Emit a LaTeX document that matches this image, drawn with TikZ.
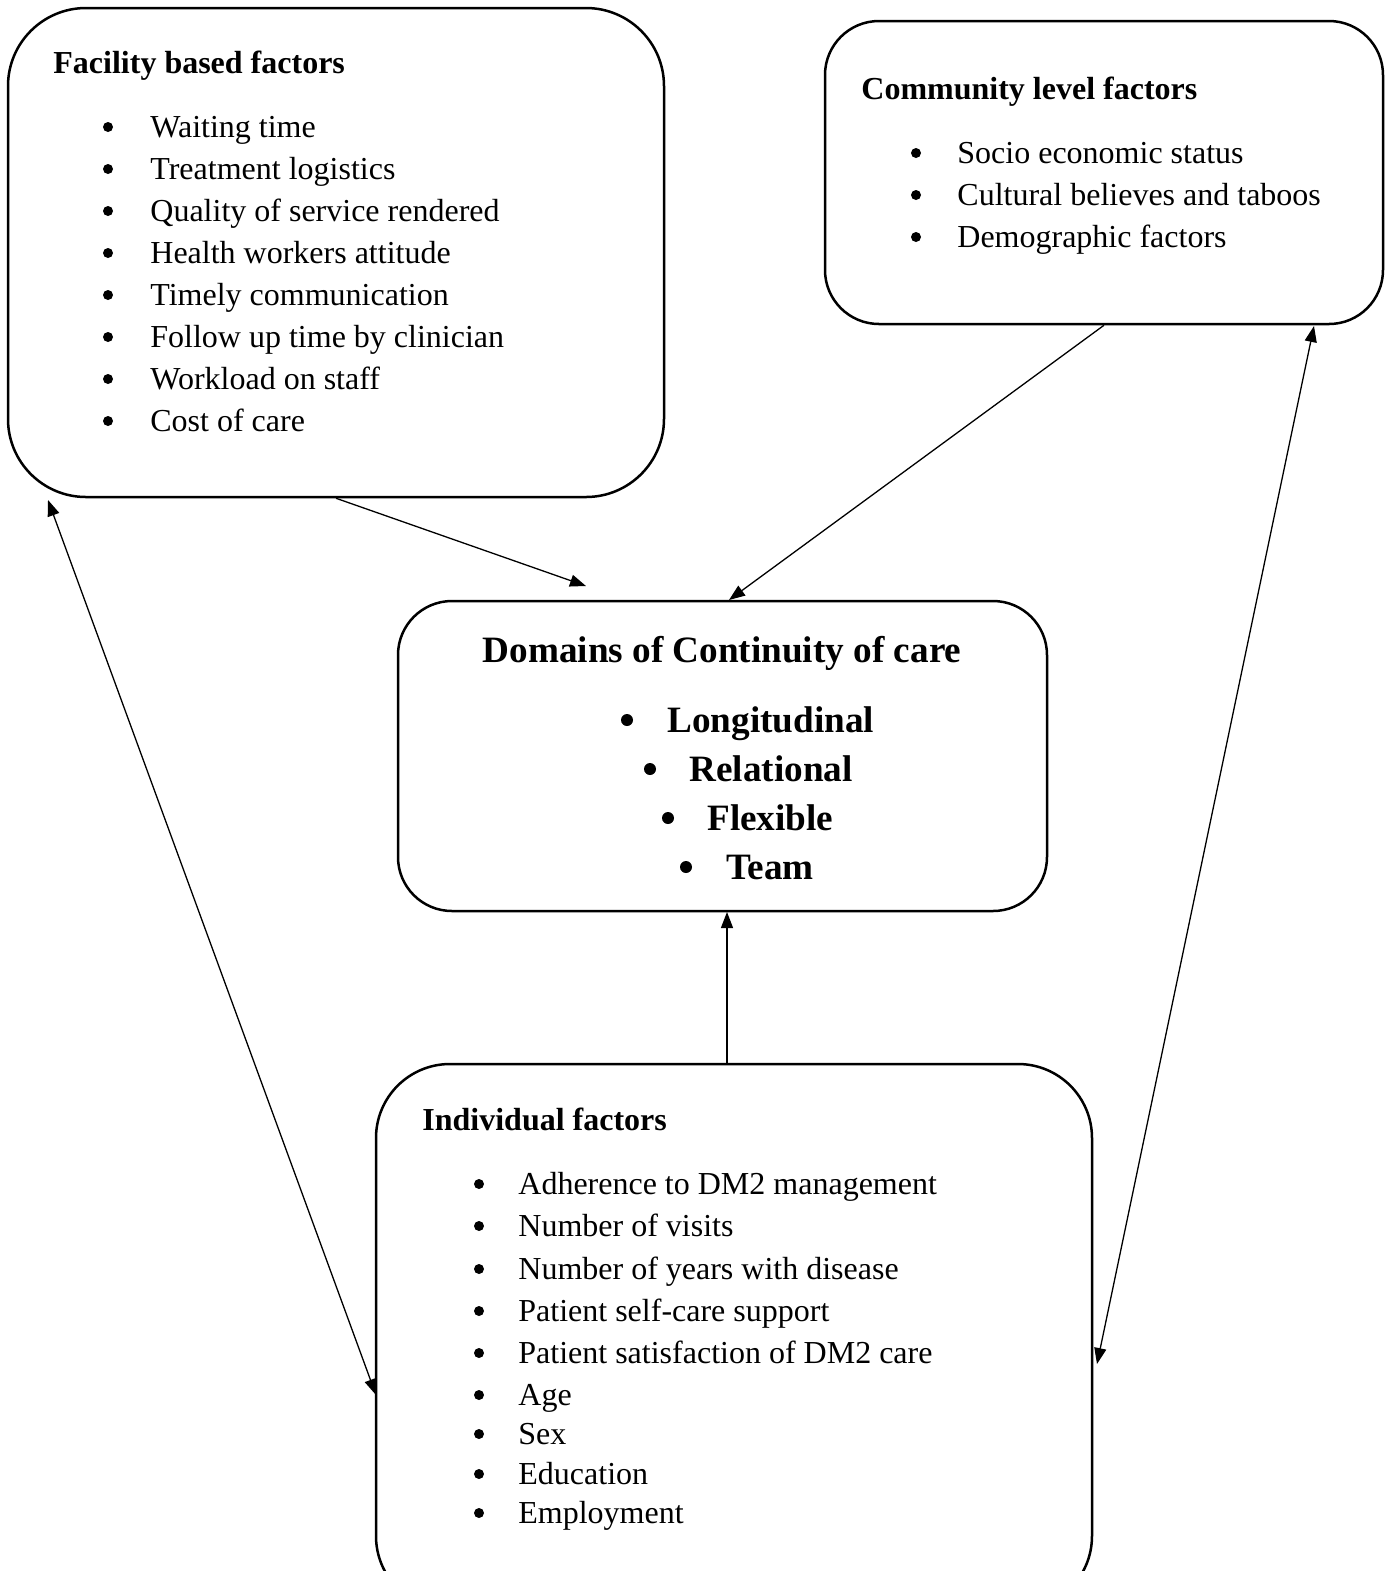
\documentclass[tikz,border=0pt]{standalone}
\usepackage{fontspec}
\setmainfont{Liberation Serif}
\usetikzlibrary{arrows.meta,fit}
\begin{document}
\begin{tikzpicture}[x=0.5pt,y=-0.5pt,
  boxstyle/.style={draw, line width=1.25pt, inner sep=0pt},
  txt/.style={anchor=base west, inner sep=0pt, font=\fontsize{16}{19}\selectfont},
  hdr/.style={anchor=base west, inner sep=0pt, font=\fontsize{16}{19}\selectfont\bfseries},
  bul/.style={circle, fill, inner sep=0pt, minimum size=5pt},
  dtxt/.style={anchor=base west, inner sep=0pt, font=\fontsize{18.6}{22}\selectfont\bfseries},
  dbul/.style={circle, fill, inner sep=0pt, minimum size=6pt},
  arr/.style={line width=0.65pt, -{Triangle[length=8pt,width=6pt]}},
  darr/.style={line width=0.65pt, {Triangle[length=8pt,width=6pt]}-{Triangle[length=8pt,width=6pt]}}
]
\useasboundingbox (0,0) rectangle (1392,1571);
\fill[white] (0,0) rectangle (1392,1571);
\clip (0,0) rectangle (1392,1571);

% boxes
\node[boxstyle, rounded corners=39pt, fit={(8,8)(664,497)}] (fac) {};
\node[boxstyle, rounded corners=27pt, fit={(825,21)(1383,324)}] (com) {};
\node[boxstyle, rounded corners=27pt, fit={(398,601)(1047,911)}] (dom) {};
\node[boxstyle, rounded corners=37pt, fit={(376,1064)(1092,1610)}] (ind) {};

% facility text
\node[hdr] (fh) at (53,73) {Facility based factors};
\foreach \t [count=\i] in {Waiting time,Treatment logistics,Quality of service rendered,Health workers attitude,Timely communication,Follow up time by clinician,Workload on staff,Cost of care}{
  \node[bul] (fb\i) at (108,{127+42*(\i-1)}) {};
  \node[txt] (ft\i) at (150,{137+42*(\i-1)}) {\t};
}

% community text
\node[hdr] (ch) at (861,99) {Community level factors};
\foreach \t [count=\i] in {Socio economic status,Cultural believes and taboos,Demographic factors}{
  \node[bul] (cb\i) at (916,{153+42*(\i-1)}) {};
  \node[txt] (ct\i) at (957,{163+42*(\i-1)}) {\t};
}

% domains text
\node[anchor=base, inner sep=0pt, font=\fontsize{18.6}{22}\selectfont\bfseries] (dh) at (722,662) {Domains of Continuity of care};
\node[dbul] (db1) at (627,720) {};
\node[dtxt] (dt1) at (667,732) {Longitudinal};
\node[dbul] (db2) at (650,769) {};
\node[dtxt] (dt2) at (689,781) {Relational};
\node[dbul] (db3) at (668,818) {};
\node[dtxt] (dt3) at (707,830) {Flexible};
\node[dbul] (db4) at (686,867) {};
\node[dtxt] (dt4) at (726,879) {Team};

% individual text
\node[hdr] (ih) at (422,1130) {Individual factors};
\foreach \t/\y [count=\i] in {Adherence to DM2 management/1194,Number of visits/1236,Number of years with disease/1279,Patient self-care support/1321,Patient satisfaction of DM2 care/1363,Age/1405,Sex/1444,Education/1484,Employment/1523}{
  \node[bul] (ib\i) at (479,\y-10) {};
  \node[txt] (it\i) at (518,\y) {\t};
}

% connector end points
\coordinate (domA) at (586,586);
\coordinate (domB) at (729,600);
\coordinate (domC) at (727,912);
\coordinate (indT) at (727,1063);
\coordinate (facBL) at (48,500);
\coordinate (indL) at (376,1395);
\coordinate (comBR) at (1314,326);
\coordinate (indR) at (1097,1364);

% connectors
\draw[arr] (fac.south) -- (domA);
\draw[arr] (com.south) -- (domB);
\draw[arr] (indT) -- (domC);
\draw[darr] (facBL) -- (indL);
\draw[darr] (comBR) -- (indR);
\end{tikzpicture}
\end{document}
